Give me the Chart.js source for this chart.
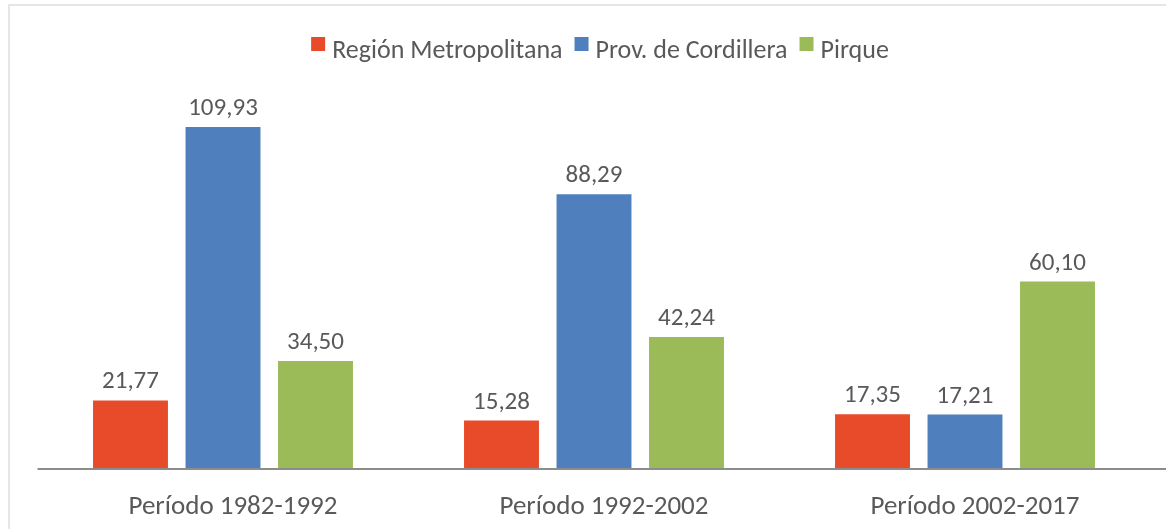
<!DOCTYPE html>
<html>
<head>
<meta charset="utf-8">
<script src="https://cdn.jsdelivr.net/npm/chart.js@4/dist/chart.umd.min.js"></script>
<style>
  html, body { margin: 0; padding: 0; background: #fff; }
  #wrap { width: 1166px; height: 529px; position: relative; }
</style>
</head>
<body>
<div id="wrap"><canvas id="growthChart"></canvas></div>
<script>
const categories = ["Período 1982-1992", "Período 1992-2002", "Período 2002-2017"];
const seriesNames = ["Región Metropolitana", "Prov. de Cordillera", "Pirque"];
const regionValues = [21.77, 15.28, 17.35];
const cordilleraValues = [109.93, 88.29, 17.21];
const pirqueValues = [34.5, 42.24, 60.1];
const seriesColors = ["#e84b29", "#4f80bd", "#9bbb59"];

const FONT = "Carlito, Lato, sans-serif";
const TEXT = "#595959";

// frame lines + baseline that runs out to the right edge
const framePlugin = {
  id: "frame",
  beforeDraw(chart) {
    const c = chart.ctx;
    c.save();
    c.fillStyle = "#e6e6e6";
    c.fillRect(8, 4, chart.width - 8, 2);
    c.fillRect(8, 4, 2, chart.height - 4);
    c.restore();
  },
  afterDatasetsDraw(chart) {
    const c = chart.ctx;
    const y = chart.scales.y.getPixelForValue(0);
    c.save();
    c.fillStyle = "#8c8c8c";
    c.fillRect(chart.chartArea.left, Math.round(y), chart.width - chart.chartArea.left, 2);
    c.restore();
  },
};

// legend drawn by hand so the square/text gaps look like Excel's
const legendPlugin = {
  id: "excelLegend",
  afterDraw(chart) {
    const c = chart.ctx;
    const box = 14, gapText = 7, gapItem = 12, baseline = 58, centerX = 600;
    c.save();
    c.font = "26px " + FONT;
    c.textBaseline = "alphabetic";
    const widths = chart.data.datasets.map((ds) => c.measureText(ds.label).width);
    const total = widths.reduce((a, w) => a + box + gapText + w, 0) + gapItem * (widths.length - 1);
    let x = centerX - total / 2;
    chart.data.datasets.forEach((ds, i) => {
      c.fillStyle = ds.backgroundColor;
      c.fillRect(x, baseline - 21, box, box);
      x += box + gapText;
      c.fillStyle = TEXT;
      c.fillText(ds.label, x, baseline);
      x += widths[i] + gapItem;
    });
    c.restore();
  },
};

// value labels with comma decimals
const labelPlugin = {
  id: "valueLabels",
  afterDatasetsDraw(chart) {
    const c = chart.ctx;
    c.save();
    c.font = "25px " + FONT;
    c.fillStyle = TEXT;
    c.textAlign = "center";
    c.textBaseline = "alphabetic";
    chart.data.datasets.forEach((ds, i) => {
      chart.getDatasetMeta(i).data.forEach((bar, j) => {
        c.fillText(ds.data[j].toFixed(2).replace(".", ","), bar.x, bar.y - 12);
      });
    });
    c.restore();
  },
};

new Chart(document.getElementById("growthChart"), {
  type: "bar",
  data: {
    labels: categories,
    datasets: [
      { label: seriesNames[0], data: regionValues, backgroundColor: seriesColors[0] },
      { label: seriesNames[1], data: cordilleraValues, backgroundColor: seriesColors[1] },
      { label: seriesNames[2], data: pirqueValues, backgroundColor: seriesColors[2] },
    ],
  },
  options: {
    responsive: true,
    maintainAspectRatio: false,
    animation: false,
    categoryPercentage: 0.748,
    barPercentage: 0.81,
    layout: { padding: { left: 37.5, right: 15.5, top: 95.8, bottom: 5.6 } },
    plugins: {
      legend: { display: false },
      tooltip: { enabled: false },
    },
    scales: {
      x: {
        grid: { display: false, drawTicks: false },
        border: { display: false },
        ticks: {
          color: TEXT,
          font: { family: FONT, size: 27 },
          padding: 23,
          labelOffset: 10,
          maxRotation: 0,
        },
        afterFit(scale) {
          scale.height = 55.4;
        },
      },
      y: {
        display: false,
        min: 0,
        max: 120,
      },
    },
  },
  plugins: [framePlugin, labelPlugin, legendPlugin],
});
</script>
</body>
</html>
